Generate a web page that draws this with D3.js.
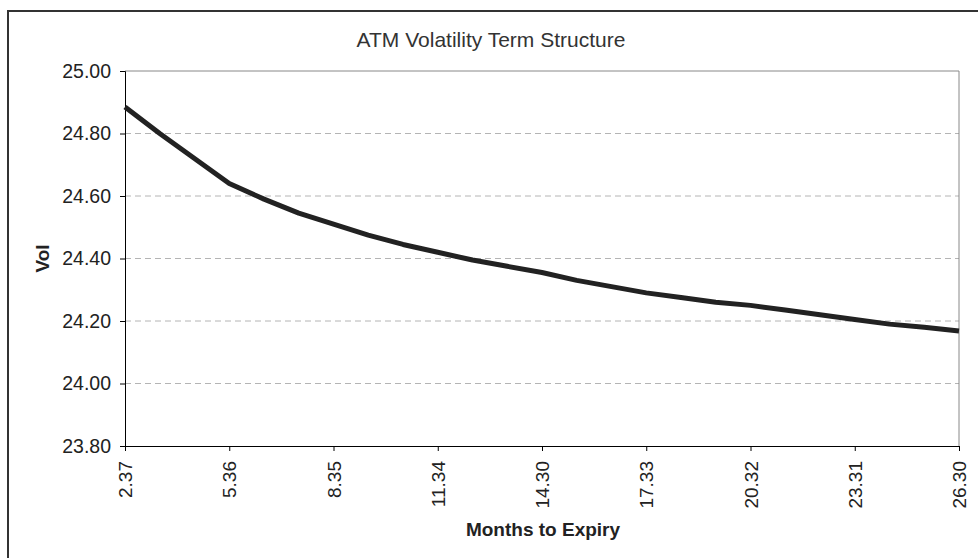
<!DOCTYPE html>
<html>
<head>
<meta charset="utf-8">
<script src="https://cdn.jsdelivr.net/npm/d3@7"></script>
<style>
  body { margin: 0; background: #fff; }
  svg { display: block; font-family: "Liberation Sans", Arial, sans-serif; }
</style>
</head>
<body>
<svg id="chart" width="978" height="558"></svg>
<script>
// tick labels on the category axis (months to expiry), one every 3 points
const monthLabels = ['2.37', '5.36', '8.35', '11.34', '14.30', '17.33', '20.32', '23.31', '26.30']
// ATM vol per monthly point (25 points)
const vols = [24.885, 24.80, 24.72, 24.64, 24.59, 24.545, 24.51, 24.475, 24.445,
    24.42, 24.395, 24.375, 24.355, 24.33, 24.31, 24.29, 24.275, 24.26,
    24.25, 24.235, 24.22, 24.205, 24.19, 24.18, 24.168]
const yTicks = [23.8, 24.0, 24.2, 24.4, 24.6, 24.8, 25.0]

const svg = d3.select('#chart')
const plotL = 125, plotR = 959, plotT = 71, plotB = 446
const fontFam = '"Liberation Sans", Arial, sans-serif'

// outer chart border (runs off the right and bottom of the picture)
svg.append('rect')
    .attr('x', 8).attr('y', 11)
    .attr('width', 1000).attr('height', 560)
    .attr('fill', '#fff')
    .attr('stroke', '#333')
    .attr('stroke-width', 2)

let x = d3.scaleLinear()
    .domain([0, vols.length - 1])
    .range([plotL, plotR])

let y = d3.scaleLinear()
    .domain([23.8, 25.0])
    .range([plotB, plotT])

// gridlines
svg.append('g')
    .selectAll('line')
    .data(yTicks.slice(1, -1))
    .enter()
    .append('line')
    .attr('x1', plotL).attr('x2', plotR)
    .attr('y1', d => y(d)).attr('y2', d => y(d))
    .attr('stroke', '#b4b4b4')
    .attr('stroke-dasharray', '6,4')

// plot area border top/right
svg.append('path')
    .attr('d', `M${plotL},${y(25)}H${plotR}V${plotB}`)
    .attr('fill', 'none')
    .attr('stroke', '#888')

// y axis
let yAxis = svg.append('g')
    .attr('transform', `translate(${plotL},0)`)
    .call(d3.axisLeft(y).tickValues(yTicks).tickFormat(d3.format('.2f')).tickSize(5).tickPadding(9))
yAxis.select('.domain').attr('stroke', '#000')
yAxis.selectAll('text')
    .attr('font-size', 19.5)
    .attr('fill', '#222')
    .style('font-family', fontFam)

// x axis, labelled every third category
let tickIdx = monthLabels.map((d, i) => i * 3)
let xAxis = svg.append('g')
    .attr('transform', `translate(0,${plotB})`)
    .call(d3.axisBottom(x).tickValues(tickIdx).tickFormat((d, i) => monthLabels[i]).tickSizeOuter(0).tickSize(5))
xAxis.select('.domain').attr('stroke', '#000')
xAxis.selectAll('text')
    .attr('font-size', 19)
    .attr('fill', '#222')
    .style('font-family', fontFam)
    .attr('transform', 'rotate(-90)')
    .attr('text-anchor', 'end')
    .attr('x', -15)
    .attr('y', 0)
    .attr('dy', '0.35em')

// the vol line
svg.append('path')
    .datum(vols)
    .attr('fill', 'none')
    .attr('stroke', '#222')
    .attr('stroke-width', 5)
    .attr('stroke-linejoin', 'round')
    .attr('d', d3.line().x((d, i) => x(i)).y(d => y(d)))

// titles
svg.append('text')
    .attr('x', 491).attr('y', 47)
    .attr('text-anchor', 'middle')
    .attr('font-size', 21)
    .attr('fill', '#333')
    .text('ATM Volatility Term Structure')

svg.append('text')
    .attr('transform', `translate(49,${(plotT + plotB) / 2}) rotate(-90)`)
    .attr('text-anchor', 'middle')
    .attr('font-size', 19)
    .attr('font-weight', 'bold')
    .attr('fill', '#222')
    .text('Vol')

svg.append('text')
    .attr('x', 543).attr('y', 536)
    .attr('text-anchor', 'middle')
    .attr('font-size', 19)
    .attr('font-weight', 'bold')
    .attr('fill', '#222')
    .text('Months to Expiry')
</script>
</body>
</html>
